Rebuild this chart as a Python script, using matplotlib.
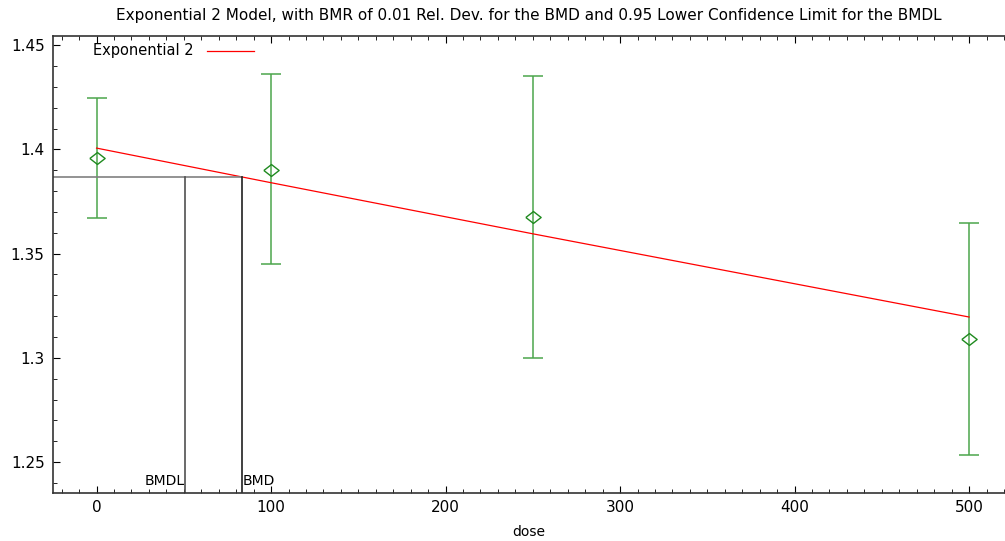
import numpy as np
import matplotlib.pyplot as plt
from matplotlib.ticker import MultipleLocator

plt.rcParams['font.family'] = ['DejaVu Sans']

# observed group means with confidence limits
dose = [0, 100, 250, 500]
mean = [1.3958, 1.3900, 1.3675, 1.3090]
upper = [1.4246, 1.4361, 1.4351, 1.3646]
lower = [1.3670, 1.3450, 1.2999, 1.2534]

# fitted exponential 2 model
fit_dose = [0, 100, 250, 500]
fit_resp = [1.4006, 1.3840, 1.3595, 1.3196]

bmr_level = 1.3867
bmdl = 50.4
bmd = 83.6

fig = plt.figure(figsize=(10.05, 5.41), dpi=100)
ax = fig.add_axes([0.0527, 0.0887, 0.9473, 0.8453])

yerr = [np.array(mean) - np.array(lower), np.array(upper) - np.array(mean)]
ax.errorbar(dose, mean, yerr=yerr, fmt='none', ecolor='#4ca64c', elinewidth=1.1,
            capsize=7.5, capthick=1.1)
diamond = [(-1, 0), (0, 0.78), (1, 0), (0, -0.78), (-1, 0)]
ax.plot(dose, mean, linestyle='none', marker=diamond, markersize=11, markerfacecolor='none',
        markeredgecolor='#1f8a1f', markeredgewidth=1)

ax.plot(fit_dose, fit_resp, color='red', lw=0.9)

ymin, ymax = 1.2352, 1.4545
ax.plot([-25, bmd], [bmr_level, bmr_level], color='#808080', lw=1.2)
ax.plot([bmdl, bmdl], [ymin, bmr_level], color='#505050', lw=1.2)
ax.plot([bmd, bmd], [ymin, bmr_level], color='#202020', lw=1.2)
ax.text(bmdl, 1.2375, 'BMDL', ha='right', va='bottom', fontsize=10)
ax.text(bmd, 1.2375, 'BMD', ha='left', va='bottom', fontsize=10)

# legend drawn like the original: label first, then the line sample
ax.text(0.042, 0.967, 'Exponential 2', transform=ax.transAxes, va='center', fontsize=10.5)
ax.plot([0.162, 0.211], [0.967, 0.967], transform=ax.transAxes, color='red', lw=0.9)

ax.set_xlim(-25, 520.6)
ax.set_ylim(ymin, ymax)
ax.xaxis.set_major_locator(MultipleLocator(100))
ax.xaxis.set_minor_locator(MultipleLocator(10))
ax.yaxis.set_minor_locator(MultipleLocator(0.01))
ax.set_yticks([1.25, 1.3, 1.35, 1.4, 1.45])
ax.set_yticklabels(['1.25', '1.3', '1.35', '1.4', '1.45'])
ax.tick_params(which='both', direction='in', top=True, right=False, labelsize=11)
ax.tick_params(axis='y', pad=6)
ax.tick_params(axis='x', pad=5)
ax.tick_params(which='major', length=5)
ax.tick_params(which='minor', length=3)
ax.spines['right'].set_visible(False)
for s in ['left', 'bottom', 'top']:
    ax.spines[s].set_color('#333333')
    ax.spines[s].set_linewidth(1.2)

ax.set_xlabel('dose', fontsize=10, labelpad=7.5)
ax.set_title('Exponential 2 Model, with BMR of 0.01 Rel. Dev. for the BMD and 0.95 Lower Confidence Limit for the BMDL',
             fontsize=10.95, pad=11)

fig.savefig('out.png', dpi=100)
